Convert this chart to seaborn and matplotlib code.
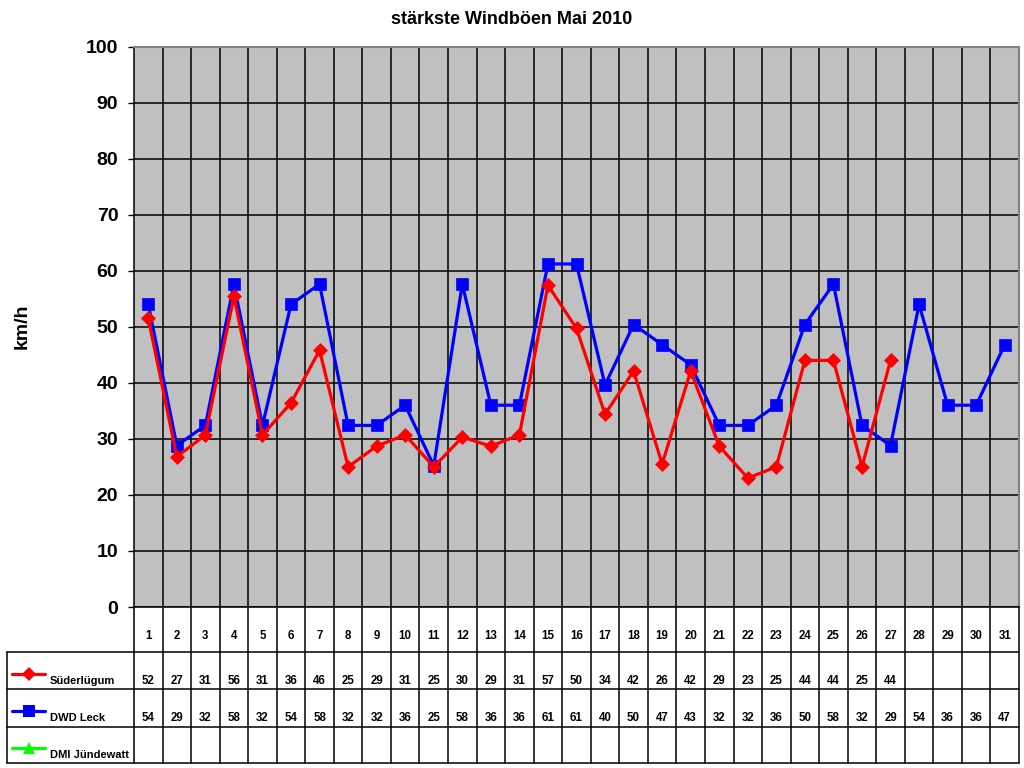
import numpy as np
import pandas as pd
import matplotlib
matplotlib.use("Agg")
import matplotlib.pyplot as plt
import seaborn as sns

# ---------------- data ----------------
days = list(range(1, 32))
series_names = ["Süderlügum", "DWD Leck", "DMI Jündewatt"]
series_colors = ["#FF0000", "#0000FF", "#00FF00"]
series_markers = ["D", "s", "^"]

suederluegum = [51.5, 26.8, 30.7, 55.4, 30.7, 36.4, 45.8, 25.0, 28.7, 30.7,
                25.0, 30.3, 28.7, 30.7, 57.4, 49.7, 34.4, 42.1, 25.5, 42.1,
                28.7, 23.0, 25.0, 44.0, 44.0, 25.0, 44.0,
                np.nan, np.nan, np.nan, np.nan]
dwd_leck = [54.0, 28.8, 32.4, 57.6, 32.4, 54.0, 57.6, 32.4, 32.4, 36.0,
            25.2, 57.6, 36.0, 36.0, 61.2, 61.2, 39.6, 50.4, 46.8, 43.2,
            32.4, 32.4, 36.0, 50.4, 57.6, 32.4, 28.8, 54.0, 36.0, 36.0, 46.8]
dmi_juendewatt = [np.nan] * 31

suederluegum_table = [52, 27, 31, 56, 31, 36, 46, 25, 29, 31, 25, 30, 29, 31,
                      57, 50, 34, 42, 26, 42, 29, 23, 25, 44, 44, 25, 44,
                      None, None, None, None]
dwd_leck_table = [54, 29, 32, 58, 32, 54, 58, 32, 32, 36, 25, 58, 36, 36,
                  61, 61, 40, 50, 47, 43, 32, 32, 36, 50, 58, 32, 29, 54,
                  36, 36, 47]
dmi_table = [None] * 31

title = "stärkste Windböen Mai 2010"
ylabel = "km/h"
yticks = list(range(0, 101, 10))

# ---------------- style ----------------
sns.set_style("white")
plt.rcParams["font.family"] = ["Liberation Sans", "DejaVu Sans"]
plt.rcParams["font.weight"] = "bold"
for k in ["text.color", "axes.labelcolor", "xtick.color", "ytick.color"]:
    plt.rcParams[k] = "black"

W, H = 1024, 768
fig = plt.figure(figsize=(W / 100, H / 100), dpi=100)
fig.patch.set_facecolor("white")

# plot area in pixels
pl, pr, pt, pb = 134, 1019, 46.5, 607
ax = fig.add_axes([pl / W, 1 - pb / H, (pr - pl) / W, (pb - pt) / H])
ax.set_facecolor("#C0C0C0")

df = pd.DataFrame({"day": days, "Süderlügum": suederluegum,
                   "DWD Leck": dwd_leck})

sns.lineplot(data=df, x="day", y="Süderlügum", ax=ax, color=series_colors[0],
             linewidth=2.3, marker="D", markersize=6.8,
             markeredgecolor=series_colors[0], markeredgewidth=0.5, zorder=4)
sns.lineplot(data=df, x="day", y="DWD Leck", ax=ax, color=series_colors[1],
             linewidth=2.3, marker="s", markersize=9,
             markeredgecolor=series_colors[1], markeredgewidth=0.5, zorder=3)

ax.set_xlim(0.5, 31.5)
ax.set_ylim(0, 100)
ax.set_yticks(yticks)
ax.set_yticklabels([str(v) for v in yticks], fontsize=14, fontweight="bold",
                   color="black")
ax.set_xticks([])
ax.set_xticks([d + 0.5 for d in days[:-1]], minor=True)
ax.tick_params(axis="x", which="both", length=0, labelbottom=False)
ax.tick_params(axis="y", direction="out", length=4.3, width=1, color="black",
               pad=7, left=True)
ax.grid(axis="y", which="major", color="black", linewidth=1.1)
ax.grid(axis="x", which="minor", color="black", linewidth=1.1)
ax.set_axisbelow(True)
ax.set_xlabel("")
ax.set_ylabel("")
for s in ["left", "bottom"]:
    ax.spines[s].set_color("black")
    ax.spines[s].set_linewidth(1.1)
for s in ["top", "right"]:
    ax.spines[s].set_color("#808080")
    ax.spines[s].set_linewidth(1.5)

fig.text(0.5, 1 - 20 / H, title, ha="center", va="center",
         fontsize=13, fontweight="bold", color="black")
fig.text(22 / W, 1 - 326 / H, ylabel, ha="center", va="center",
         rotation=90, fontsize=14, fontweight="bold", color="black")

# ---------------- data table ----------------
tt, tb = 607, 763
tab = fig.add_axes([pl / W, 1 - tb / H, (pr - pl) / W, (tb - tt) / H])
tab.set_xlim(0.5, 31.5)
tab.set_ylim(tb - tt, 0)
tab.axis("off")
unit = (pr - pl) / 31.0
xleft = 0.5 + (7 - pl) / unit
row_lines = [651.7 - tt, 689 - tt, 726.7 - tt, tb - tt - 0.5]
lw = 1.1
for y in row_lines:
    tab.plot([xleft, 31.5], [y, y], color="black", lw=lw, clip_on=False)
tab.plot([xleft, xleft], [row_lines[0], row_lines[-1]], color="black", lw=lw,
         clip_on=False)
for d in days:
    tab.plot([d - 0.5, d - 0.5], [0, row_lines[-1]], color="black", lw=lw,
             clip_on=False)
tab.plot([31.5, 31.5], [0, row_lines[-1]], color="black", lw=lw, clip_on=False)

for d in days:
    tab.text(d, 636 - tt, str(d), ha="center", va="center", fontsize=8.3,
             fontweight="bold", color="black", clip_on=False)

table_rows = [suederluegum_table, dwd_leck_table, dmi_table]
row_text_y = [681 - tt, 718 - tt, 755 - tt]
legend_line_y = [674 - tt, 711 - tt, 748 - tt]
marker_sizes = [7, 9, 9]
lx0 = 0.5 + (12 - pl) / unit
lx1 = 0.5 + (45 - pl) / unit
ltx = 0.5 + (50 - pl) / unit
for r, vals in enumerate(table_rows):
    for d, v in zip(days, vals):
        if v is not None:
            tab.text(d, row_text_y[r], str(v), ha="center", va="center",
                     fontsize=8.3, fontweight="bold", color="black",
                     clip_on=False)
    tab.plot([lx0, lx1], [legend_line_y[r]] * 2, color=series_colors[r],
             lw=2.3, clip_on=False)
    tab.plot([(lx0 + lx1) / 2], [legend_line_y[r]], marker=series_markers[r],
             color=series_colors[r], markersize=marker_sizes[r],
             markeredgewidth=0, clip_on=False)
    tab.text(ltx, row_text_y[r], series_names[r], ha="left", va="center",
             fontsize=8, fontweight="bold", color="black", clip_on=False)

fig.savefig("out.png", dpi=100)
